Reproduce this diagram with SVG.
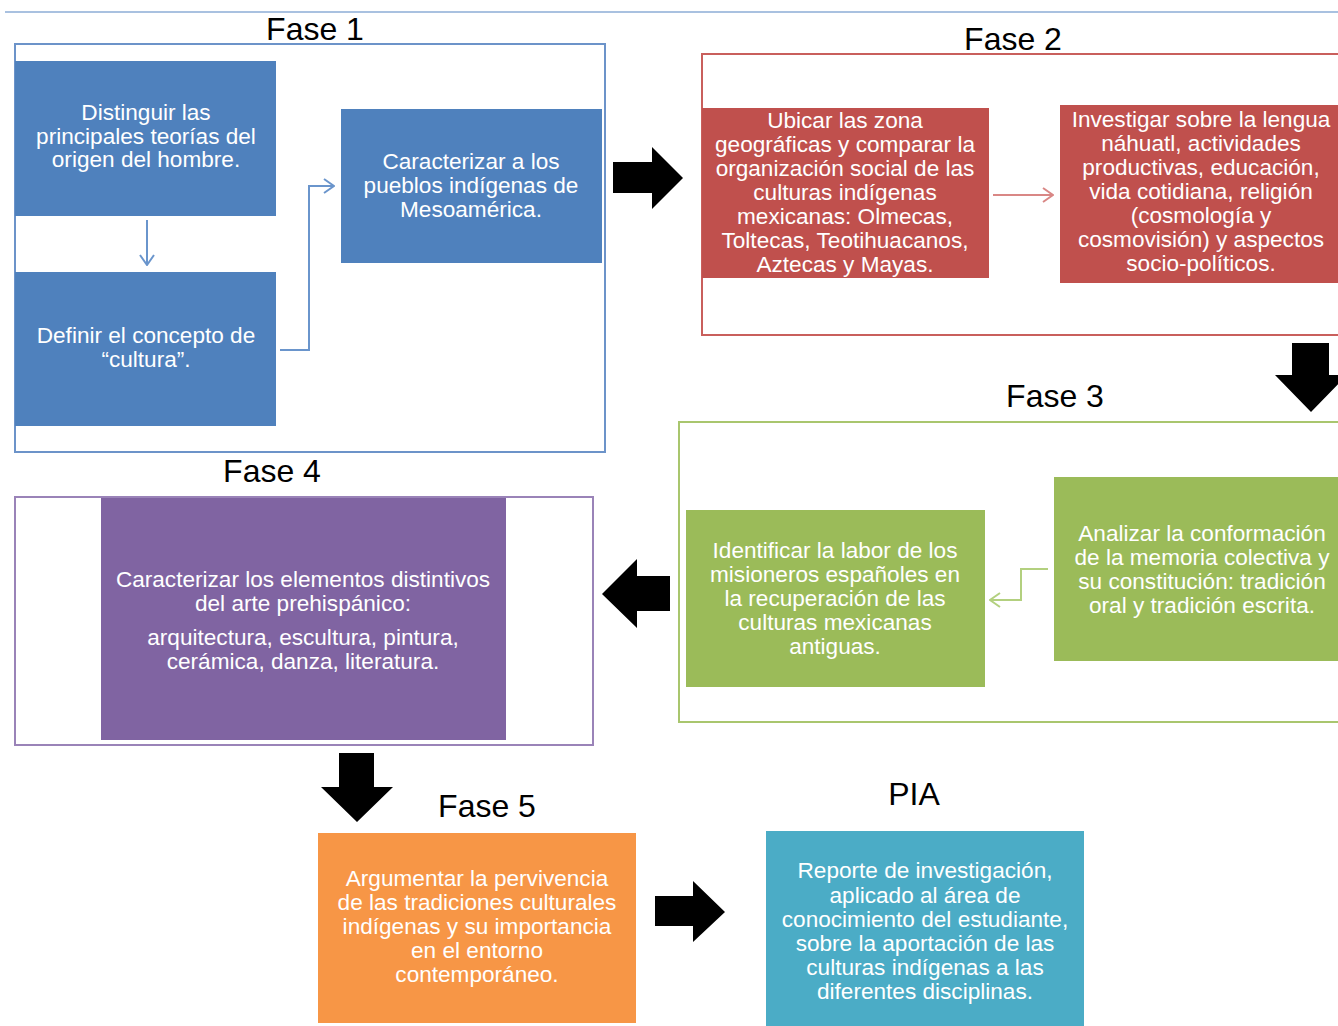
<svg xmlns="http://www.w3.org/2000/svg" width="1338" height="1026" viewBox="0 0 1338 1026">
<style>
.bg{fill:#ffffff}
.title{font-family:"Liberation Sans",Arial,sans-serif;font-size:32px;fill:#000;text-anchor:middle}
.t{font-family:"Liberation Sans",Arial,sans-serif;font-size:22.6px;fill:#ffffff;text-anchor:middle}
.blue{fill:#4F81BD}
.red{fill:#C0504D}
.green{fill:#9BBB59}
.purple{fill:#8064A2}
.orange{fill:#F79646}
.aqua{fill:#4BACC6}
.frame{fill:none;stroke-width:2}
.big{fill:#000}
</style>
<defs>
<marker id="chevB" viewBox="0 0 12 16" refX="11" refY="8" markerWidth="12" markerHeight="16" markerUnits="userSpaceOnUse" orient="auto">
<path d="M1,1 L11,8 L1,15" fill="none" stroke="#6A95CC" stroke-width="2"/>
</marker>
<marker id="chevR" viewBox="0 0 12 16" refX="11" refY="8" markerWidth="12" markerHeight="16" markerUnits="userSpaceOnUse" orient="auto">
<path d="M1,1 L11,8 L1,15" fill="none" stroke="#D98785" stroke-width="2"/>
</marker>
<marker id="chevG" viewBox="0 0 12 16" refX="11" refY="8" markerWidth="12" markerHeight="16" markerUnits="userSpaceOnUse" orient="auto">
<path d="M1,1 L11,8 L1,15" fill="none" stroke="#B3D07F" stroke-width="2"/>
</marker>
</defs>
<rect class="bg" x="0" y="0" width="1338" height="1026"/>
<line x1="5" y1="12" x2="1338" y2="12" stroke="#A9C1E0" stroke-width="2"/>

<g id="fase1">
<text class="title" x="315" y="40">Fase 1</text>
<rect class="frame" x="15" y="44" width="590" height="408" stroke="#6C93C9"/>
</g>
<g id="nodeA">
<rect class="blue" x="15" y="61" width="261" height="155"/>
<text class="t" x="146" y="120">Distinguir las</text>
<text class="t" x="146" y="143.5">principales teorías del</text>
<text class="t" x="146" y="167">origen del hombre.</text>
</g>
<g id="nodeB">
<rect class="blue" x="15" y="272" width="261" height="154"/>
<text class="t" x="146" y="343">Definir el concepto de</text>
<text class="t" x="146" y="367">“cultura”.</text>
</g>
<g id="nodeC">
<rect class="blue" x="341" y="109" width="261" height="154"/>
<text class="t" x="471" y="169">Caracterizar a los</text>
<text class="t" x="471" y="193">pueblos indígenas de</text>
<text class="t" x="471" y="217">Mesoamérica.</text>
</g>

<g id="fase2">
<text class="title" x="1013" y="50">Fase 2</text>
<rect class="frame" x="702" y="54" width="645" height="281" stroke="#C95F5C"/>
</g>
<g id="nodeD">
<rect class="red" x="702" y="108" width="287" height="170"/>
<text class="t" x="845" y="128">Ubicar las zona</text>
<text class="t" x="845" y="152">geográficas y comparar la</text>
<text class="t" x="845" y="176">organización social de las</text>
<text class="t" x="845" y="200">culturas indígenas</text>
<text class="t" x="845" y="224">mexicanas: Olmecas,</text>
<text class="t" x="845" y="248">Toltecas, Teotihuacanos,</text>
<text class="t" x="845" y="272">Aztecas y Mayas.</text>
</g>
<g id="nodeE">
<rect class="red" x="1060" y="105" width="284" height="178"/>
<text class="t" x="1201" y="127">Investigar sobre la lengua</text>
<text class="t" x="1201" y="151">náhuatl, actividades</text>
<text class="t" x="1201" y="175">productivas, educación,</text>
<text class="t" x="1201" y="199">vida cotidiana, religión</text>
<text class="t" x="1201" y="223">(cosmología y</text>
<text class="t" x="1201" y="247">cosmovisión) y aspectos</text>
<text class="t" x="1201" y="271">socio-políticos.</text>
</g>

<g id="fase3">
<text class="title" x="1055" y="407">Fase 3</text>
<rect class="frame" x="679" y="422" width="668" height="300" stroke="#A9C66E"/>
</g>
<g id="nodeF">
<rect class="green" x="1054" y="477" width="292" height="184"/>
<text class="t" x="1202" y="541">Analizar la conformación</text>
<text class="t" x="1202" y="565">de la memoria colectiva y</text>
<text class="t" x="1202" y="589">su constitución: tradición</text>
<text class="t" x="1202" y="613">oral y tradición escrita.</text>
</g>
<g id="nodeG">
<rect class="green" x="686" y="510" width="299" height="177"/>
<text class="t" x="835" y="558">Identificar la labor de los</text>
<text class="t" x="835" y="582">misioneros españoles en</text>
<text class="t" x="835" y="606">la recuperación de las</text>
<text class="t" x="835" y="630">culturas mexicanas</text>
<text class="t" x="835" y="654">antiguas.</text>
</g>

<g id="fase4">
<text class="title" x="272" y="482">Fase 4</text>
<rect class="frame" x="15" y="497" width="578" height="248" stroke="#9A83B8"/>
</g>
<g id="nodeH">
<rect class="purple" x="101" y="498" width="405" height="242"/>
<text class="t" x="303" y="587">Caracterizar los elementos distintivos</text>
<text class="t" x="303" y="611">del arte prehispánico:</text>
<text class="t" x="303" y="645">arquitectura, escultura, pintura,</text>
<text class="t" x="303" y="669">cerámica, danza, literatura.</text>
</g>

<g id="fase5">
<text class="title" x="487" y="817">Fase 5</text>
</g>
<g id="nodeI">
<rect class="orange" x="318" y="833" width="318" height="190"/>
<text class="t" x="477" y="886">Argumentar la pervivencia</text>
<text class="t" x="477" y="910">de las tradiciones culturales</text>
<text class="t" x="477" y="934">indígenas y su importancia</text>
<text class="t" x="477" y="958">en el entorno</text>
<text class="t" x="477" y="982">contemporáneo.</text>
</g>

<g id="pia">
<text class="title" x="914" y="805">PIA</text>
</g>
<g id="nodeJ">
<rect class="aqua" x="766" y="831" width="318" height="197"/>
<text class="t" x="925" y="878">Reporte de investigación,</text>
<text class="t" x="925" y="902.5">aplicado al área de</text>
<text class="t" x="925" y="926.5">conocimiento del estudiante,</text>
<text class="t" x="925" y="950.5">sobre la aportación de las</text>
<text class="t" x="925" y="974.5">culturas indígenas a las</text>
<text class="t" x="925" y="998.5">diferentes disciplinas.</text>
</g>

<g id="connectors">
<line x1="147" y1="220" x2="147" y2="265" stroke="#6A95CC" stroke-width="2" marker-end="url(#chevB)"/>
<polyline points="280,350 309,350 309,186 334,186" fill="none" stroke="#6A95CC" stroke-width="2" marker-end="url(#chevB)"/>
<line x1="993" y1="195" x2="1053" y2="195" stroke="#D98785" stroke-width="2" marker-end="url(#chevR)"/>
<polyline points="1048,569 1021,569 1021,600 990,600" fill="none" stroke="#B3D07F" stroke-width="2" marker-end="url(#chevG)"/>
<polygon class="big" points="613,162 652,162 652,147 683,178 652,209 652,193 613,193"/>
<polygon class="big" points="1292,343 1329,343 1329,375 1347,375 1311,412 1275,375 1292,375"/>
<polygon class="big" points="670,576 637,576 637,559 602,594 637,628 637,611 670,611"/>
<polygon class="big" points="339,753 374,753 374,787 393,787 357,822 321,787 339,787"/>
<polygon class="big" points="655,896 693,896 693,881 725,912 693,942 693,926 655,926"/>
</g>
</svg>
